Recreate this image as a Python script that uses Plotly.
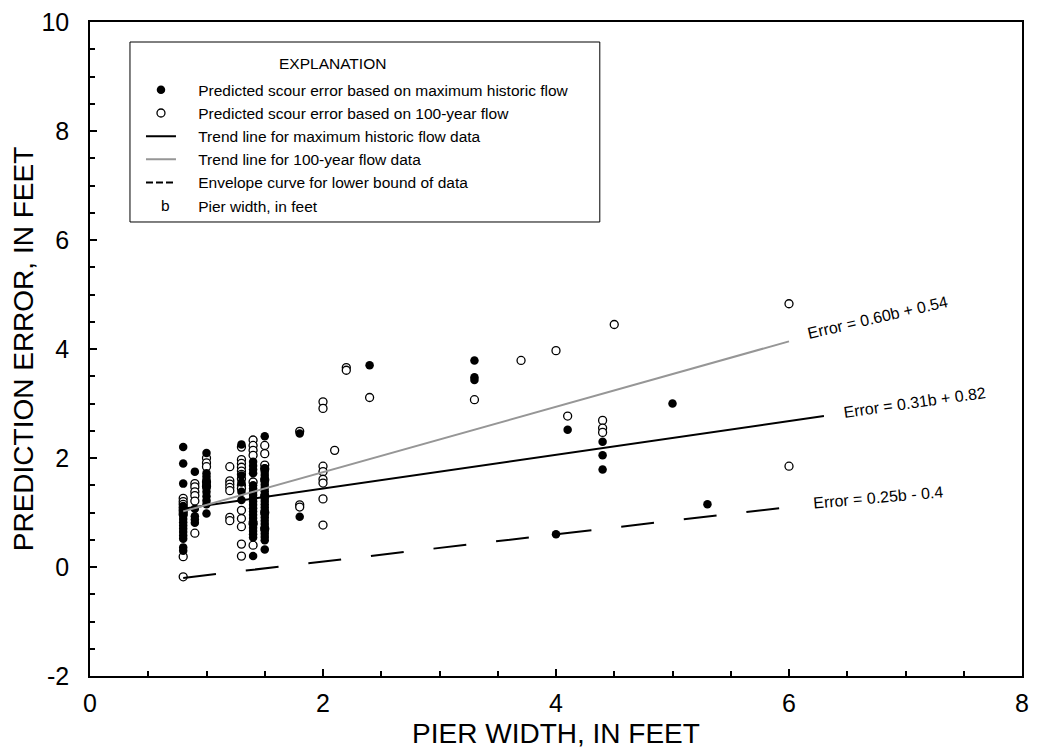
import plotly.graph_objects as go

# Pier width (ft) and prediction error (ft)
# Filled circles: predicted scour error based on maximum historic flow
hist_b = (
    [0.8] * 16 + [0.9] * 5 + [1.0] * 11 + [1.3] * 5 + [1.4] * 22 + [1.5] * 25
    + [1.8] * 2 + [2.4, 3.3, 3.3, 3.3, 4.0, 4.1, 4.4, 4.4, 4.4, 5.0, 5.3]
)
hist_err = (
    [2.20, 1.90, 1.53, 1.12, 1.06, 1.00, 0.94, 0.88, 0.82, 0.76, 0.70, 0.64, 0.58, 0.52, 0.36, 0.30]
    + [1.75, 1.07, 0.93, 0.87, 0.81]
    + [2.09, 1.72, 1.66, 1.60, 1.52, 1.45, 1.38, 1.30, 1.22, 1.15, 0.98]
    + [2.25, 1.68, 1.55, 1.38, 1.23]
    + [1.93, 1.86, 1.79, 1.72, 1.50, 1.44, 1.38, 1.32, 1.26, 1.20, 1.14, 1.08, 1.02,
       0.96, 0.90, 0.84, 0.78, 0.72, 0.66, 0.60, 0.54, 0.20]
    + [2.40, 1.81, 1.75, 1.69, 1.63, 1.57, 1.51, 1.45, 1.39, 1.33, 1.27, 1.21, 1.15,
       1.09, 1.03, 0.97, 0.91, 0.85, 0.79, 0.73, 0.67, 0.61, 0.55, 0.49, 0.32]
    + [2.45, 0.92]
    + [3.70, 3.79, 3.48, 3.43, 0.60, 2.52, 2.30, 2.05, 1.79, 3.00, 1.15]
)

# Open circles: predicted scour error based on 100-year flow
q100_b = (
    [0.8] * 8 + [0.9] * 6 + [1.0] * 5 + [1.2] * 7 + [1.3] * 14 + [1.4] * 7 + [1.5] * 8
    + [1.8] * 3 + [2.0] * 8
    + [2.1, 2.2, 2.2, 2.4, 3.3, 3.7, 4.0, 4.1, 4.4, 4.4, 4.4, 4.5, 6.0, 6.0]
)
q100_err = (
    [1.26, 1.20, 1.15, 1.09, 1.03, 0.97, 0.19, -0.18]
    + [1.53, 1.47, 1.38, 1.31, 1.21, 0.62]
    + [2.00, 1.91, 1.84, 1.56, 1.48]
    + [1.84, 1.58, 1.52, 1.46, 1.40, 0.91, 0.85]
    + [2.20, 1.97, 1.90, 1.83, 1.76, 1.70, 1.62, 1.50, 1.44, 1.04, 0.89, 0.74, 0.42, 0.20]
    + [2.33, 2.23, 2.14, 2.05, 1.56, 0.80, 0.40]
    + [2.23, 2.08, 1.87, 1.80, 1.60, 1.30, 1.00, 0.70]
    + [2.49, 1.14, 1.10]
    + [3.03, 2.91, 1.85, 1.75, 1.61, 1.54, 1.25, 0.77]
    + [2.14, 3.66, 3.61, 3.11, 3.07, 3.79, 3.97, 2.77, 2.69, 2.55, 2.47, 4.45, 4.83, 1.85]
)

# Trend lines and envelope curve (end points)
trend_hist_b = [0.8, 6.3]
trend_hist_err = [1.07, 2.77]
trend_q100_b = [0.8, 6.0]
trend_q100_err = [1.02, 4.14]
envelope_b = [0.8, 6.0]
envelope_err = [-0.20, 1.10]

equations = ["Error = 0.60b + 0.54", "Error = 0.31b + 0.82", "Error = 0.25b - 0.4"]
eq_x = [6.76, 7.08, 6.76]
eq_y = [4.58, 3.02, 1.28]
eq_angle = [-13, -8, -5]

x_ticks = [0, 2, 4, 6, 8]
y_ticks = [-2, 0, 2, 4, 6, 8, 10]

FONT = "Arial, 'Liberation Sans', sans-serif"
PAD = "\u00a0" * 4

fig = go.Figure()

fig.add_trace(go.Scatter(
    x=q100_b, y=q100_err, mode="markers",
    name=PAD + "Predicted scour error based on 100-year flow", legendrank=2,
    marker=dict(size=8, color="white", line=dict(color="black", width=1.3)),
))
fig.add_trace(go.Scatter(
    x=hist_b, y=hist_err, mode="markers",
    name=PAD + "Predicted scour error based on maximum historic flow", legendrank=1,
    marker=dict(size=8.5, color="black", line=dict(color="black", width=0)),
))
fig.add_trace(go.Scatter(
    x=trend_hist_b, y=trend_hist_err, mode="lines",
    name=PAD + "Trend line for maximum historic flow data", legendrank=3,
    line=dict(color="black", width=2),
))
fig.add_trace(go.Scatter(
    x=trend_q100_b, y=trend_q100_err, mode="lines",
    name=PAD + "Trend line for 100-year flow data", legendrank=4,
    line=dict(color="rgb(150,150,150)", width=2),
))
fig.add_trace(go.Scatter(
    x=envelope_b, y=envelope_err, mode="lines", showlegend=False,
    line=dict(color="black", width=2, dash="33px,30px"),
))
# legend-only entries
fig.add_trace(go.Scatter(
    x=[None], y=[None], mode="lines",
    name=PAD + "Envelope curve for lower bound of data", legendrank=5,
    line=dict(color="black", width=2, dash="7px,3px"),
))
fig.add_trace(go.Scatter(
    x=[None], y=[None], mode="markers",
    name=PAD + "Pier width, in feet", legendrank=6,
    marker=dict(size=1, color="rgba(0,0,0,0)"),
))

for text, x, y, ang in zip(equations, eq_x, eq_y, eq_angle):
    fig.add_annotation(x=x, y=y, text=text, textangle=ang, showarrow=False,
                       font=dict(size=16, color="black", family=FONT))

# explanation box
fig.add_shape(type="rect", xref="paper", yref="paper",
              x0=0.0429, x1=0.547, y0=0.6942, y1=0.9694,
              line=dict(color="black", width=1), fillcolor="white", layer="below")
fig.add_annotation(xref="paper", yref="paper", x=0.2607, y=0.9373, text="EXPLANATION",
                   xanchor="center", yanchor="middle", showarrow=False,
                   font=dict(size=15.5, color="black", family=FONT))
fig.add_annotation(xref="paper", yref="paper", x=0.0805, y=0.72, text="b",
                   xanchor="center", yanchor="middle", showarrow=False,
                   font=dict(size=15.5, color="black", family=FONT))

axis_common = dict(
    showgrid=False, zeroline=False, showline=True, linecolor="black", linewidth=1.5,
    mirror=True, ticks="inside", ticklen=7, tickwidth=1.5, tickcolor="black",
    tickfont=dict(size=25, color="black", family=FONT), automargin=False,
    ticklabeloverflow="allow",
)

fig.update_xaxes(
    range=[0, 8], tickvals=x_ticks, ticktext=[str(v) for v in x_ticks], ticklabelstandoff=4,
    minor=dict(dtick=0.5, ticks="inside", ticklen=5, tickwidth=1.5, tickcolor="black"),
    title=dict(text="PIER WIDTH, IN FEET", standoff=8,
               font=dict(size=28, color="black", family=FONT)),
    **axis_common,
)
fig.update_yaxes(
    range=[-2, 10], tickvals=y_ticks, ticktext=[str(v) for v in y_ticks], ticklabelstandoff=14,
    minor=dict(dtick=0.5, ticks="inside", ticklen=5, tickwidth=1.5, tickcolor="black"),
    title=dict(text="PREDICTION ERROR, IN FEET", standoff=0,
               font=dict(size=28, color="black", family=FONT)),
    **axis_common,
)

# the page body adds 8px around the plot, so the figure is 8px smaller
fig.update_layout(
    width=1032, height=742,
    margin=dict(l=82, r=18, t=14, b=74),
    paper_bgcolor="white", plot_bgcolor="white",
    font=dict(family=FONT, color="black"),
    legend=dict(
        x=0.0547, y=0.9216, xanchor="left", yanchor="top",
        bgcolor="rgba(0,0,0,0)", borderwidth=0,
        font=dict(size=15.5, color="black", family=FONT),
        traceorder="normal", itemclick=False,
    ),
)

fig.write_html("out.html")
